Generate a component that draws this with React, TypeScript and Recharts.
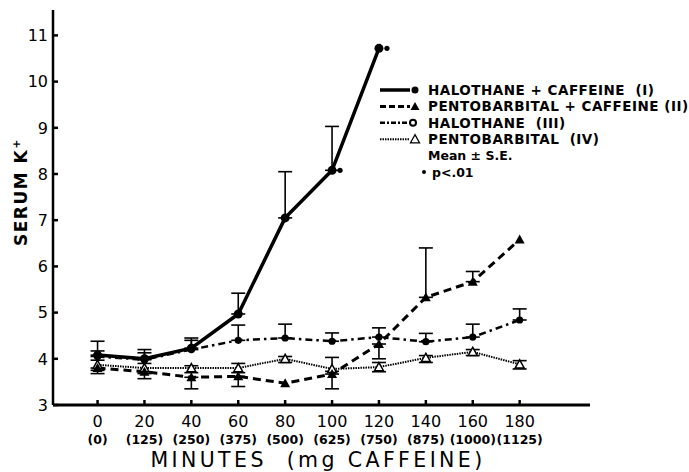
import { LineChart, Line, XAxis, YAxis, ErrorBar } from 'recharts'

const minutes = [0, 20, 40, 60, 80, 100, 120, 140, 160, 180]
const mgCaffeine = ['(0)', '(125)', '(250)', '(375)', '(500)', '(625)', '(750)', '(875)', '(1000)', '(1125)']
const yTicks = [3, 4, 5, 6, 7, 8, 9, 10, 11]

// I: halothane + caffeine
const halCaf = [4.08, 4.0, 4.23, 4.97, 7.05, 8.08, 10.72, null, null, null]
const halCafErr = [[0, 0.3], [0, 0.2], [0, 0.22], [0, 0.45], [0, 1.0], [0, 0.95], null, null, null, null]
const halCafSig = [false, false, false, false, false, true, true, false, false, false]
// II: pentobarbital + caffeine
const pentoCaf = [3.8, 3.72, 3.6, 3.62, 3.47, 3.67, 4.32, 5.33, 5.67, 6.58]
const pentoCafErr = [[0.12, 0], [0.15, 0], [0.25, 0], [0.22, 0], null, [0.32, 0], [0.32, 0], [0, 1.07], [0, 0.22], null]
// III: halothane
const hal = [4.05, 3.98, 4.2, 4.4, 4.45, 4.38, 4.47, 4.37, 4.47, 4.84]
const halErr = [[0, 0.12], [0, 0.15], [0, 0.2], [0, 0.33], [0, 0.3], [0, 0.18], [0, 0.2], [0, 0.18], [0, 0.28], [0, 0.24]]
// IV: pentobarbital
const pento = [3.87, 3.8, 3.8, 3.8, 4.0, 3.78, 3.82, 4.02, 4.15, 3.88]
const pentoErr = [[0.12, 0.1], [0.12, 0.1], [0.1, 0.05], [0.1, 0.1], [0.08, 0.05], [0.05, 0.25], [0.1, 0.1], [0.1, 0.05], [0.08, 0.05], [0.1, 0.08]]

const data = minutes.map((m, i) => ({
  min: m,
  halCaf: halCaf[i], halCafErr: halCafErr[i],
  pentoCaf: pentoCaf[i], pentoCafErr: pentoCafErr[i],
  hal: hal[i], halErr: halErr[i],
  pento: pento[i], pentoErr: pentoErr[i],
}))

const FONT = '"DejaVu Sans", sans-serif'
const SP = '\u00a0'

const tri = (cx: number, cy: number, s: number) =>
  `${cx},${cy - s} ${cx - s},${cy + s * 0.8} ${cx + s},${cy + s * 0.8}`

function CircleDot(props: any) {
  const { cx, cy, index } = props
  if (cx == null || cy == null) return <g key={index} />
  return (
    <g key={index}>
      <circle cx={cx} cy={cy} r={4.5} fill="#000" />
      {halCafSig[index] && <circle cx={cx + 8} cy={cy} r={2.6} fill="#000" />}
    </g>
  )
}
function SmallDot(props: any) {
  const { cx, cy, index } = props
  if (cx == null || cy == null) return <g key={index} />
  return <circle key={index} cx={cx} cy={cy} r={3.6} fill="#000" />
}
function FilledTri(props: any) {
  const { cx, cy, index } = props
  if (cx == null || cy == null) return <g key={index} />
  return <polygon key={index} points={tri(cx, cy, 5)} fill="#000" />
}
function OpenTri(props: any) {
  const { cx, cy, index } = props
  if (cx == null || cy == null) return <g key={index} />
  return <polygon key={index} points={tri(cx, cy, 4.5)} fill="#fff" stroke="#000" strokeWidth={1.5} />
}

function XTick(props: any) {
  const { x, y, payload } = props
  const i = minutes.indexOf(payload.value)
  return (
    <g>
      <line x1={x} x2={x} y1={y} y2={y - 5} stroke="#000" strokeWidth={2.5} />
      <text x={x} y={y + 22} textAnchor="middle" fontFamily={FONT} fontSize={16} fill="#000">{payload.value}</text>
      <text x={x} y={y + 39} textAnchor="middle" fontFamily={FONT} fontSize={12.5} fontWeight="bold" fill="#000">{mgCaffeine[i]}</text>
    </g>
  )
}
function YTick(props: any) {
  const { x, y, payload } = props
  return (
    <g>
      <line x1={x} x2={x + 5} y1={y} y2={y} stroke="#000" strokeWidth={2.5} />
      <text x={x - 5} y={y} dy="0.36em" textAnchor="end" fontFamily={FONT} fontSize={16} fill="#000">{payload.value}</text>
    </g>
  )
}

const legendRows = [
  { label: `HALOTHANE + CAFFEINE${SP}${SP}(I)`, dash: undefined, w: 3.5, marker: 'circle' },
  { label: 'PENTOBARBITAL + CAFFEINE (II)', dash: '6 3', w: 3, marker: 'ftri' },
  { label: `HALOTHANE${SP}${SP}(III)`, dash: '5 2 2 2', w: 2.5, marker: 'small' },
  { label: `PENTOBARBITAL${SP}${SP}(IV)`, dash: '1.5 1', w: 2, marker: 'otri' },
]

function Legend() {
  const row = (i: number) => 10 + i * 16.4
  return (
    <svg width={320} height={110} style={{ position: 'absolute', left: 378, top: 80 }}>
      {legendRows.map((r, i) => {
        const cy = row(i)
        return (
          <g key={r.label}>
            <line x1={2} x2={32} y1={cy} y2={cy} stroke="#000" strokeWidth={r.w} strokeDasharray={r.dash} />
            {r.marker === 'circle' && <circle cx={37} cy={cy} r={3.5} fill="#000" />}
            {r.marker === 'small' && <circle cx={35} cy={cy} r={3} fill="#fff" stroke="#000" strokeWidth={2} />}
            {r.marker === 'ftri' && <polygon points={tri(37, cy, 4.5)} fill="#000" />}
            {r.marker === 'otri' && <polygon points={tri(37, cy, 4.5)} fill="#fff" stroke="#000" strokeWidth={1.3} />}
            <text x={50} y={cy} dy="0.36em" fontFamily={FONT} fontSize={13.5} letterSpacing={0.5} fontWeight="bold" fill="#000">{r.label}</text>
          </g>
        )
      })}
      <text x={50} y={row(4)} dy="0.36em" fontFamily={FONT} fontSize={12.5} fontWeight="bold" fill="#000">Mean ± S.E.</text>
      <circle cx={46} cy={row(5)} r={2} fill="#000" />
      <text x={54} y={row(5)} dy="0.36em" fontFamily={FONT} fontSize={12.5} fontWeight="bold" fill="#000">p&lt;.01</text>
    </svg>
  )
}

export default function App() {
  return (
    <div style={{ position: 'absolute', left: 0, top: 0, width: 689, height: 472, background: '#fff' }}>
      <LineChart width={689} height={472} data={data} margin={{ top: 10, right: 99, bottom: 0, left: 0 }}>
        <XAxis
          dataKey="min"
          type="number"
          domain={[-19, 210]}
          ticks={minutes}
          interval={0}
          height={67}
          tickSize={0}
          tickMargin={0}
          tickLine={false}
          axisLine={{ stroke: '#000', strokeWidth: 3 }}
          tick={<XTick />}
        />
        <YAxis
          type="number"
          domain={[3, 11.55]}
          ticks={yTicks}
          interval={0}
          width={53}
          tickSize={0}
          tickMargin={0}
          tickLine={false}
          axisLine={{ stroke: '#000', strokeWidth: 2.5 }}
          tick={<YTick />}
        />
        <Line dataKey="pento" stroke="#000" strokeWidth={2} strokeDasharray="1.5 1" dot={OpenTri} isAnimationActive={false}>
          <ErrorBar dataKey="pentoErr" width={7} stroke="#000" strokeWidth={1.6} direction="y" />
        </Line>
        <Line dataKey="hal" stroke="#000" strokeWidth={2.5} strokeDasharray="7 4 2.5 4" dot={SmallDot} isAnimationActive={false}>
          <ErrorBar dataKey="halErr" width={7} stroke="#000" strokeWidth={1.6} direction="y" />
        </Line>
        <Line dataKey="pentoCaf" stroke="#000" strokeWidth={3} strokeDasharray="8 5" dot={FilledTri} isAnimationActive={false}>
          <ErrorBar dataKey="pentoCafErr" width={7} stroke="#000" strokeWidth={1.6} direction="y" />
        </Line>
        <Line dataKey="halCaf" stroke="#000" strokeWidth={3.5} dot={CircleDot} connectNulls={false} isAnimationActive={false}>
          <ErrorBar dataKey="halCafErr" width={7} stroke="#000" strokeWidth={1.6} direction="y" />
        </Line>
        <text x={318} y={467} textAnchor="middle" fontFamily={FONT} fontSize={20.5} letterSpacing={3.4} fill="#000">
          MINUTES{SP}{SP}(mg CAFFEINE)
        </text>
        <text x={27} y={192} transform="rotate(-90 27 192)" textAnchor="middle" fontFamily={FONT} fontSize={17} fontWeight="bold" letterSpacing={1.5} fill="#000">
          SERUM K<tspan dy={-7} fontSize={11}>+</tspan>
        </text>
      </LineChart>
      <Legend />
    </div>
  )
}
